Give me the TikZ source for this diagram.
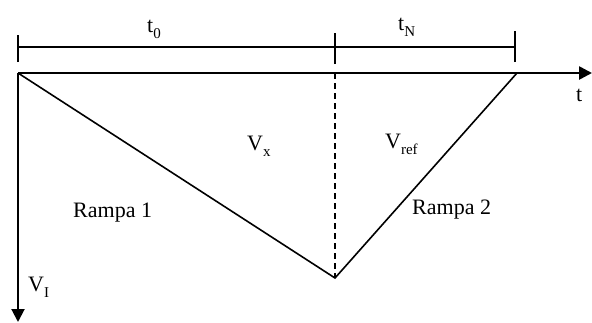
\documentclass[tikz,border=0pt]{standalone}
\usepackage{fontspec}
\setmainfont{Liberation Serif}
\usetikzlibrary{arrows.meta}
\newcommand{\sbs}[1]{\raisebox{-0.28em}{\fontsize{15}{15}\selectfont #1}}
\begin{document}
\begin{tikzpicture}[x=1pt,y=-1pt,
  lbl/.style={anchor=base west,inner sep=0pt,font=\fontsize{22}{26}\selectfont},
  axis/.style={line width=2.6pt,-{Triangle[length=13pt,width=13pt]}},
  vaxis/.style={line width=2pt,-{Triangle[length=13pt,width=13pt]}},
  ramp/.style={line width=1.6pt},
  bar/.style={line width=1.6pt},
  dashline/.style={line width=1.6pt,dash pattern=on 6pt off 4pt}]
\useasboundingbox (0,0) rectangle (592,322);
\coordinate (O) at (18,73);
\coordinate (M) at (335,73);
\coordinate (B) at (335,278);
\coordinate (R) at (517,73);
\coordinate (Xend) at (592,73);
\coordinate (Yend) at (18,322);
\coordinate (T0) at (18,47);
\coordinate (T1) at (335,47);
\coordinate (T2) at (515,47);
% tick bar
\draw[bar] (T0) -- (T2);
\draw[bar] ([yshift=-15pt]T0) -- ([yshift=12pt]T0);
\draw[bar] ([yshift=-17pt]T1) -- ([yshift=14pt]T1);
\draw[bar] ([yshift=-15pt]T2) -- ([yshift=16pt]T2);
% ramps
\draw[ramp,line join=miter] (O) -- (B) -- (R);
\draw[dashline] (M) -- (B);
% axes
\draw[axis] (O) -- (Xend);
\draw[vaxis] (O) -- (Yend);
% labels
\node[lbl] (lt0) at (147,32) {t\sbs{0}};
\node[lbl] (ltN) at (398,30) {t\sbs{N}};
\node[lbl] (lt) at (576,101) {t};
\node[lbl] (lVx) at (247,150) {V\sbs{x}};
\node[lbl] (lVref) at (385,148) {V\sbs{ref}};
\node[lbl] (lR1) at (73,217) {Rampa 1};
\node[lbl] (lR2) at (412,214) {Rampa 2};
\node[lbl] (lVI) at (28,291) {V\sbs{I}};
\end{tikzpicture}
\end{document}
